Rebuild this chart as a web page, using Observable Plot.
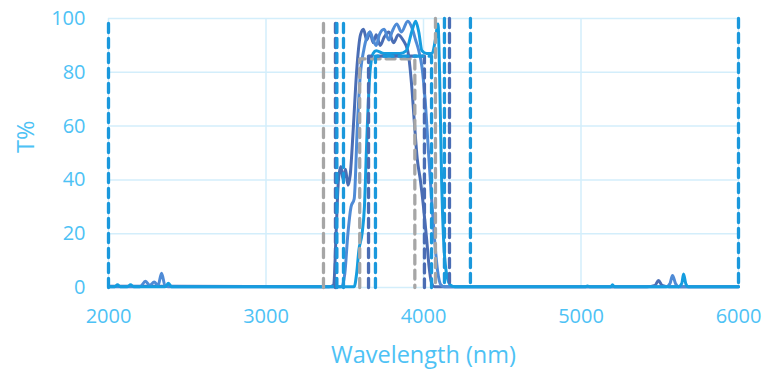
<!DOCTYPE html>
<html>
<head>
<meta charset="utf-8">
<script src="https://cdn.jsdelivr.net/npm/d3@7"></script>
<script src="https://cdn.jsdelivr.net/npm/@observablehq/plot@0.6"></script>
<style>
  html, body { margin: 0; padding: 0; background: #fff; }
  #chart svg { display: block; }
</style>
</head>
<body>
<div id="chart"></div>
<script>
// ---------- Data ----------
const xTicks = [2000, 3000, 4000, 5000, 6000];
const yTicks = [0, 20, 40, 60, 80, 100];
const xTitle = "Wavelength (nm)";
const yTitle = "T%";

// Measured spectra (solid lines)
const slateW = [2000, 2100, 2200, 2400, 3400, 3430, 3445, 3460, 3475, 3490, 3505, 3520, 3535, 3555, 3575, 3600, 3619, 3640, 3660, 3680, 3700, 3725, 3750, 3780, 3810, 3840, 3870, 3900, 3925, 3940, 3960, 3980, 4000, 4020, 4035, 4050, 4070, 5420, 5470, 5492, 5515, 5560, 6000];
const slateT = [0.5, 0.5, 0.5, 0.5, 0.3, 1, 20, 40, 45, 40, 44, 38, 42, 60, 80, 94, 96, 92, 95, 91, 94, 90, 93, 95, 91, 94, 92, 88, 75, 63, 48, 40, 30, 18, 8, 2, 0.3, 0.3, 0.8, 2.6, 0.8, 0.3, 0.3];

const mediumW = [2000, 2200, 2235, 2262, 2290, 2315, 2337, 2360, 2400, 3480, 3500, 3520, 3540, 3560, 3580, 3600, 3620, 3640, 3660, 3680, 3700, 3720, 3750, 3780, 3800, 3830, 3860, 3900, 3930, 3950, 3970, 3990, 4010, 4030, 4050, 4070, 4090, 4110, 4130, 5540, 5565, 5581, 5600, 5620, 6000];
const mediumT = [0.3, 0.3, 2.3, 0.8, 2, 0.8, 5.3, 0.5, 0.3, 0.3, 5, 20, 30, 33, 60, 80, 88, 93, 95, 92, 90, 94, 96, 92, 95, 98, 95, 99, 96, 92, 88, 82, 70, 52, 34, 18, 6, 1, 0.3, 0.3, 1.5, 4.5, 1.5, 0.3, 0.3];

const brightW = [2000, 2040, 2057, 2075, 2120, 2140, 2160, 2360, 2381, 2400, 3560, 3575, 3590, 3610, 3625, 3640, 3660, 3680, 3700, 3750, 3800, 3850, 3890, 3925, 3950, 3970, 3990, 4020, 4055, 4075, 4092, 4102, 4115, 4130, 4150, 4170, 4200, 5030, 5041, 5055, 5190, 5200, 5212, 5620, 5640, 5651, 5665, 5680, 6000];
const brightT = [0.3, 0.3, 1, 0.3, 0.3, 1, 0.3, 0.3, 1.6, 0.3, 0.3, 5, 14, 20, 30, 55, 80, 87, 88, 87, 87, 87, 88, 95, 99, 95, 88, 87, 87, 92, 98, 80, 40, 15, 4, 1, 0.3, 0.3, 0.6, 0.3, 0.3, 1, 0.3, 0.3, 1.5, 5, 1.5, 0.3, 0.3];

// Design passbands (dashed lines): start, end, top (100 = reaches beyond the axis)
const filterColor = ["gray", "gray", "slate", "blue", "blue", "slate", "blue", "blue"];
const filterStart = [3365, 3595, 3441, 3450, 3492, 3651, 3695, 2000];
const filterEnd   = [4076, 3945, 4165, 4298, 4133, 4006, 4051, 6000];
const filterTop   = [100, 85, 100, 100, 100, 86, 86, 100];

// ---------- Build tables ----------
const colorMap = {slate: "#4a6db4", medium: "#4f8bd6", bright: "#159ddf", gray: "#a6a6a6", blue: "#1a98dc"};
const spectra = [];
[["slate", slateW, slateT], ["medium", mediumW, mediumT], ["bright", brightW, brightT]].forEach(([name, W, T]) => {
  W.forEach((w, i) => spectra.push({series: name, w, t: T[i]}));
});

const dashed = [];
filterStart.forEach((s, i) => {
  const e = filterEnd[i], top = filterTop[i], id = "f" + i, c = filterColor[i];
  if (top >= 100) {
    dashed.push({id, c, w: s, t: 0}, {id, c, w: s, t: 100}, {id, c, w: NaN, t: NaN}, {id, c, w: e, t: 100}, {id, c, w: e, t: 0});
  } else {
    dashed.push({id, c, w: s, t: 0}, {id, c, w: s, t: top}, {id, c, w: e, t: top}, {id, c, w: e, t: 0});
  }
});

const textColor = "#4dc2f5";
const gridColor = "#d3eefb";

const chart = Plot.plot({
  width: 765,
  height: 374,
  marginLeft: 108,
  marginRight: 27,
  marginTop: 18,
  marginBottom: 87,
  style: {fontFamily: "'Open Sans', sans-serif", fontSize: "20px", color: textColor, background: "#fff", overflow: "visible"},
  x: {domain: [2000, 6000]},
  y: {domain: [0, 100]},
  marks: [
    Plot.gridX(xTicks, {stroke: gridColor, strokeOpacity: 1, strokeWidth: 1.5}),
    Plot.gridY(yTicks, {stroke: gridColor, strokeOpacity: 1, strokeWidth: 1.5}),
    Plot.axisX({ticks: xTicks, tickSize: 0, tickPadding: 21, tickFormat: d => String(d), label: null, fill: textColor}),
    Plot.axisY({ticks: yTicks, tickSize: 0, tickPadding: 23, label: null, fill: textColor}),
    Plot.text([xTitle], {frameAnchor: "bottom", dy: 68, lineAnchor: "middle", fontSize: 23.5, fill: textColor}),
    Plot.text([yTitle], {frameAnchor: "left", dx: -82, rotate: -90, lineAnchor: "middle", fontSize: 23.5, fill: textColor}),
    Plot.line(spectra, {x: "w", y: "t", z: "series", stroke: d => colorMap[d.series], strokeWidth: 3, curve: "monotone-x", strokeLinejoin: "round"}),
    Plot.line(dashed, {x: "w", y: "t", z: "id", stroke: d => colorMap[d.c], strokeWidth: 3.3, strokeDasharray: "9,6"})
  ]
});
document.getElementById("chart").appendChild(chart);
</script>
</body>
</html>
